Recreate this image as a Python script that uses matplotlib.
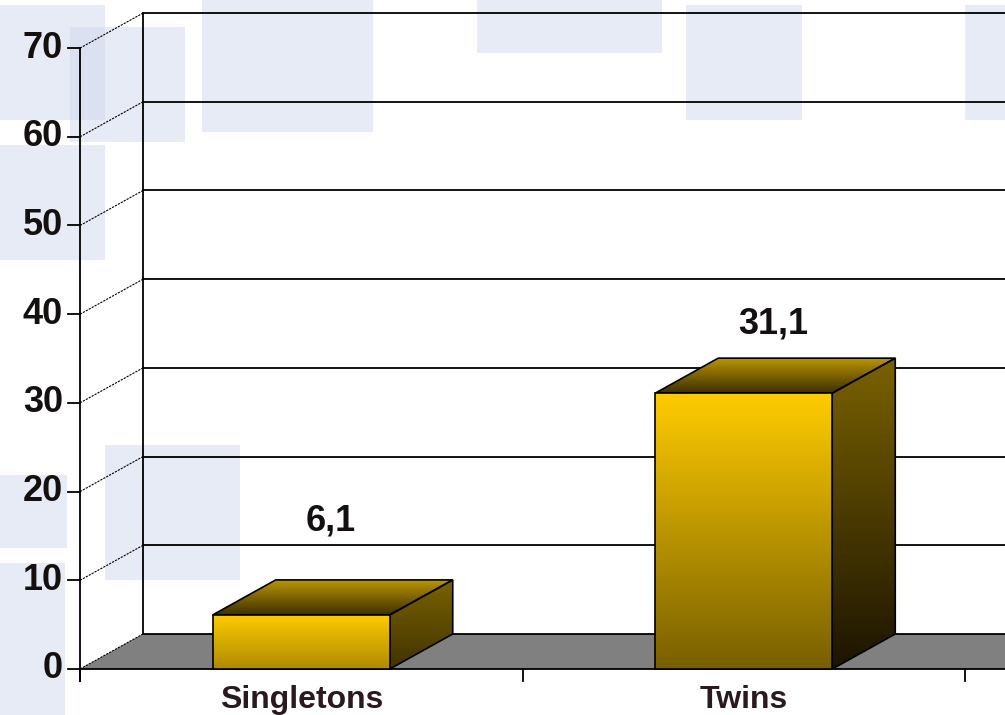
import numpy as np
import matplotlib.pyplot as plt
from matplotlib.patches import Polygon, Rectangle

categories = ['Singletons', 'Twins']
values = [6.1, 31.1]
value_labels = ['6,1', '31,1']
y_ticks = [0, 10, 20, 30, 40, 50, 60, 70]

# pixel scale of the reference layout
PX_X = 442.5   # px per category
PX_Y = 8.87    # px per value unit
DX = 63 / PX_X  # depth offset (x, categories)
DY = 35 / PX_Y  # depth offset (y, values)
BAR_W = 0.4
label_pad = [6.6, 3.8]  # gap above the back top edge for each value label

W, H = 1005, 715
fig = plt.figure(figsize=(W / 100, H / 100), dpi=100)
fig.patch.set_facecolor('white')

# decorative pale boxes in the background (figure pixels, top-left origin)
boxes = [(0, 5, 105, 120), (70, 27, 185, 142), (202, 0, 373, 132),
         (0, 145, 105, 260), (105, 445, 240, 580), (0, 475, 67, 548),
         (0, 563, 65, 715), (477, 0, 662, 53), (686, 5, 802, 120),
         (965, 5, 1005, 120)]
for x0, y0, x1, y1 in boxes:
    fig.patches.append(Rectangle((x0 / W, 1 - y1 / H), (x1 - x0) / W, (y1 - y0) / H,
                                 transform=fig.transFigure, facecolor=(0.815, 0.847, 0.925),
                                 alpha=0.5, edgecolor='none', zorder=-5))

ax = fig.add_axes([0, 0, 1, 1])
ax.set_zorder(2)
ax.patch.set_alpha(0)
ax.axis('off')
xmin, xmax = -0.5 - 80 / PX_X, -0.5 + 925 / PX_X
ymin, ymax = -46 / PX_Y, 669 / PX_Y

txt = dict(fontweight='bold', family='Liberation Sans', color='#151010')

x_left = -0.5
# floor
ax.add_patch(Polygon([(x_left, 0), (xmax, 0), (xmax, DY), (x_left + DX, DY)],
                     facecolor='#808080', edgecolor='none', zorder=1))

# back wall gridlines and diagonal connectors
for v in y_ticks:
    ax.plot([x_left + DX, xmax], [v + DY, v + DY], color='black', lw=1.3, zorder=2)
    ax.plot([x_left, x_left + DX], [v, v + DY], color='black', lw=0.8,
            ls=(0, (2, 1)), zorder=2)
    ax.plot([x_left - 12 / PX_X, x_left], [v, v], color='black', lw=1.3, zorder=2)
    ax.text(x_left - 17 / PX_X, v, str(v), ha='right', va='center', fontsize=26, **txt)
ax.plot([x_left + DX] * 2, [DY, y_ticks[-1] + DY], color='black', lw=1.3, zorder=2)
ax.plot([x_left] * 2, [-12 / PX_Y, y_ticks[-1]], color='black', lw=1.3, zorder=2)
ax.plot([x_left, xmax], [0, 0], color='black', lw=1.3, zorder=2)
for b in np.arange(len(categories) + 1) - 0.5:
    ax.plot([b, b], [0, -12 / PX_Y], color='black', lw=1.3, zorder=2)


def grad_fill(verts, c_top, c_bot, zorder):
    poly = Polygon(verts, closed=True, facecolor='none', edgecolor='none')
    ax.add_patch(poly)
    xs, ys = zip(*verts)
    t = np.linspace(0, 1, 256)[:, None]
    cols = np.array(c_top) * (1 - t) + np.array(c_bot) * t
    im = ax.imshow(cols.reshape(256, 1, 3) / 255, extent=(min(xs), max(xs), min(ys), max(ys)),
                   origin='upper', aspect='auto', interpolation='bilinear', zorder=zorder)
    im.set_clip_path(poly)
    ax.add_patch(Polygon(verts, closed=True, facecolor='none', edgecolor='black',
                         lw=1.2, zorder=zorder + 0.1))


def mix(a, b, f):
    f = min(1.0, f)
    return [a[i] * (1 - f) + b[i] * f for i in range(3)]


for i, (v, lab) in enumerate(zip(values, value_labels)):
    l, r = i - BAR_W / 2, i + BAR_W / 2
    f = 0.5 + v / 60
    # side face
    grad_fill([(r, 0), (r + DX, DY), (r + DX, v + DY), (r, v)],
              (122, 98, 0), mix((122, 98, 0), (28, 20, 0), f), 5)
    # top face
    grad_fill([(l, v), (r, v), (r + DX, v + DY), (l + DX, v + DY)],
              (190, 152, 0), (62, 48, 0), 5)
    # front face
    grad_fill([(l, 0), (r, 0), (r, v), (l, v)],
              (255, 204, 0), mix((255, 204, 0), (120, 95, 0), f), 6)
    ax.text(i + DX / 2 - 0.005, v + DY + label_pad[i], lab, ha='center', va='center',
            fontsize=26, zorder=10, **txt)
    ax.text(i, -4.4, categories[i], ha='center', va='baseline', fontsize=23,
            **dict(txt, color='#2a1a20'))

ax.set_xlim(xmin, xmax)
ax.set_ylim(ymin, ymax)
fig.savefig('out.png', dpi=100)
